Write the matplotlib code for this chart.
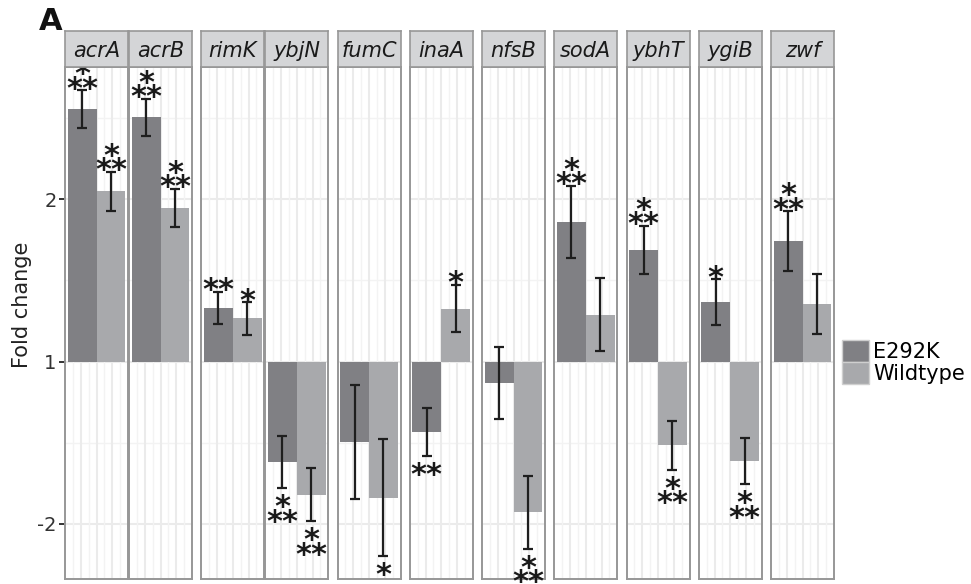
import numpy as np
import matplotlib
matplotlib.use("Agg")
import matplotlib.pyplot as plt
from matplotlib.patches import Patch
from matplotlib.textpath import TextPath
from matplotlib.font_manager import FontProperties

# ---------------- data (log2 fold change) ----------------
genes = ["acrA", "acrB", "rimK", "ybjN", "fumC", "inaA", "nfsB", "sodA", "ybhT", "ygiB", "zwf"]
groups = [["acrA", "acrB"], ["rimK", "ybjN"], ["fumC"], ["inaA"], ["nfsB"],
          ["sodA"], ["ybhT"], ["ygiB"], ["zwf"]]
genotypes = ["E292K", "Wildtype"]
e292k_log2 = [1.555, 1.505, 0.33, -0.62, -0.497, -0.433, -0.133, 0.86, 0.688, 0.368, 0.743]
e292k_err = [0.117, 0.115, 0.10, 0.16, 0.35, 0.147, 0.221, 0.224, 0.148, 0.14, 0.185]
wt_log2 = [1.05, 0.947, 0.266, -0.822, -0.84, 0.326, -0.93, 0.288, -0.516, -0.613, 0.355]
wt_err = [0.12, 0.118, 0.10, 0.163, 0.36, 0.146, 0.224, 0.226, 0.15, 0.142, 0.186]
e292k_sig = ["***", "***", "**", "***", "", "**", "", "***", "***", "*", "***"]
wt_sig = ["***", "***", "*", "***", "*", "*", "***", "", "***", "***", ""]
ytick_vals = [-1, 0, 1]
ytick_labels = ["-2", "1", "2"]
ygrid_minor = [-0.5, 0.5, 1.5]

# ---------------- style ----------------
W, H, DPI = 971, 584, 100
colors = ["#808084", "#A8A9AC"]
strip_fc = "#D4D5D7"
frame_c = "#979797"
grid_major = "#EBEBEB"
grid_minor = "#F3F3F3"
err_c = "#1E1E1E"
star_fs = 22
ylim = (-1.341, 1.816)
xlim = (0.51, 1.49)
dodge = 0.45

fig = plt.figure(figsize=(W / DPI, H / DPI), dpi=DPI)
fig.patch.set_facecolor("white")

def fx(px):
    return px / W

def fy(py):
    return 1 - py / H

panel_top, panel_bot = 67, 579
strip_top = 31
pw, gap_in, gap_out = 63, 1, 9.25
left0 = 65

# glyph extents of the asterisk (in px)
fp = FontProperties(family="DejaVu Sans", weight="bold", size=star_fs)
ext = TextPath((0, 0), "*", size=star_fs, prop=fp).get_extents()
gl_ymin = ext.y0 * DPI / 72
gl_ymax = ext.y1 * DPI / 72
gl_h = gl_ymax - gl_ymin
stride = 14.5

def rows_of(sig):
    if sig == "***":
        return ["*", "**"]  # top to bottom
    if sig == "":
        return []
    return [sig]

def star_text(ax, r, x, y, dy_px):
    ax.annotate(r, (x, y), xytext=(0, dy_px * 72 / DPI), textcoords="offset points",
                ha="center", va="baseline", fontsize=star_fs, family="DejaVu Sans",
                fontweight="bold", color="#1A1A1A", zorder=6, annotation_clip=False)

def add_stars(ax, x, val, err, sig):
    rows = rows_of(sig)
    if not rows:
        return
    n = len(rows)
    if val >= 0:
        y = val + err
        for i, r in enumerate(rows):
            k = n - 1 - i  # 0 for bottom row
            star_text(ax, r, x, y, 1.0 + k * stride - gl_ymin)
    else:
        y = val - err
        for i, r in enumerate(rows):
            star_text(ax, r, x, y, -5.5 - i * stride - gl_ymax)

x = left0
first_ax = None
for gi, grp in enumerate(groups):
    for j, gene in enumerate(grp):
        idx = genes.index(gene)
        ax = fig.add_axes([fx(x), fy(panel_bot), fx(pw), (panel_bot - panel_top) / H])
        ax.set_xlim(*xlim)
        ax.set_ylim(*ylim)
        ax.set_facecolor("white")
        # grid
        for yv in ygrid_minor:
            ax.axhline(yv, color=grid_minor, lw=1.0, zorder=0)
        for yv in ytick_vals:
            ax.axhline(yv, color=grid_major, lw=1.5, zorder=0)
        for k in range(1, 8):
            xv = xlim[0] + (xlim[1] - xlim[0]) * k / 8
            ax.axvline(xv, color=grid_major if k % 2 == 0 else grid_minor,
                       lw=1.5 if k % 2 == 0 else 1.0, zorder=0)
        vals = [e292k_log2[idx], wt_log2[idx]]
        errs = [e292k_err[idx], wt_err[idx]]
        sigs = [e292k_sig[idx], wt_sig[idx]]
        centers = [1 - dodge / 2, 1 + dodge / 2]
        for c, v, e, s, col in zip(centers, vals, errs, sigs, colors):
            ax.bar(c, v, width=dodge, color=col, zorder=2, linewidth=0)
            ax.errorbar(c, v, yerr=e, fmt="none", ecolor=err_c, elinewidth=1.6,
                        capsize=3.4, capthick=1.6, zorder=4)
            add_stars(ax, c, v, e, s)
        for sp in ax.spines.values():
            sp.set_color(frame_c)
            sp.set_linewidth(1.4)
            sp.set_zorder(5)
        ax.set_xticks([])
        if first_ax is None:
            first_ax = ax
            ax.set_yticks(ytick_vals)
            ax.set_yticklabels(ytick_labels, fontsize=14, color="#333333")
            ax.tick_params(axis="y", length=4, width=1.4, color="#333333", pad=2)
        else:
            ax.set_yticks([])
        # strip
        sax = fig.add_axes([fx(x), fy(panel_top), fx(pw), (panel_top - strip_top) / H])
        sax.set_facecolor(strip_fc)
        sax.set_xticks([])
        sax.set_yticks([])
        for sp in sax.spines.values():
            sp.set_color(frame_c)
            sp.set_linewidth(1.2)
        sax.text(0.5, 0.45, gene, ha="center", va="center", fontsize=15,
                 style="italic", color="#1A1A1A", transform=sax.transAxes)
        x += pw + (gap_in if j < len(grp) - 1 else 0)
    x += gap_out

fig.text(fx(22), fy(305), "Fold change", rotation=90, ha="center", va="center",
         fontsize=15, color="#222222")
fig.text(fx(39), fy(29.5), "A", ha="left", va="baseline", fontsize=22,
         fontweight="bold", color="#111111")

handles = [Patch(facecolor=c, edgecolor="#CFCFCF", linewidth=1.0) for c in colors]
leg = fig.legend(handles, genotypes, loc="center left", bbox_to_anchor=(fx(842), fy(362)),
                 frameon=False, fontsize=15, handlelength=1.3, handleheight=1.25,
                 labelspacing=0.0, handletextpad=0.2, borderpad=0, borderaxespad=0)

fig.savefig("out.png", dpi=DPI, facecolor="white")
